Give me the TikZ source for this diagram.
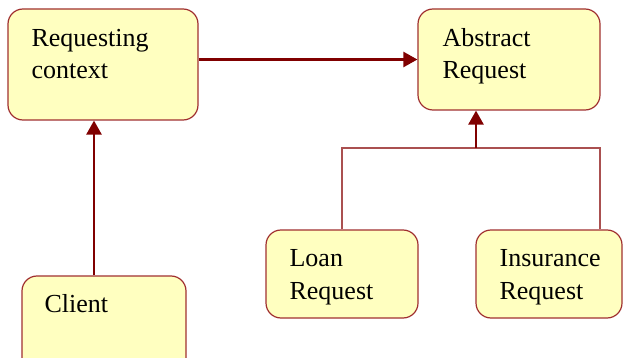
\documentclass[tikz,border=0pt]{standalone}
\usepackage{fontspec}
\setmainfont{Liberation Serif}
\usepackage{tikz}
\usetikzlibrary{arrows.meta, positioning}
\definecolor{boxfill}{RGB}{255, 255, 192}
\definecolor{boxline}{RGB}{160, 48, 48}
\definecolor{darkred}{RGB}{128, 0, 0}
\definecolor{treered}{RGB}{170, 80, 80}
\tikzset{
    classbox/.style={draw=boxline, fill=boxfill, line width=1.2pt, rounded corners=15pt, inner sep=0pt},
    classname/.style={anchor=base west, align=left, inner sep=0pt, font=\fontsize{26}{32.5}\selectfont},
    assoc/.style={darkred, line width=2.5pt, -{Triangle[length=14pt, width=15pt]}}
}

\begin{document}
\begin{tikzpicture}[x=1pt, y=-1pt]
    \useasboundingbox (0,0) rectangle (623,358);
    % boxes
    \node[classbox, minimum width=190pt, minimum height=111pt] (req) at (103,64.5) {};
    \node[classbox, minimum width=182pt, minimum height=101pt] (abs) at (509,59.5) {};
    \node[classbox, minimum width=164pt, minimum height=100pt] (client) at (104,326) {};
    \node[classbox, minimum width=152pt, minimum height=88pt] (loan) at (342,274) {};
    \node[classbox, minimum width=146pt, minimum height=88pt] (ins) at (549,274) {};
    % names (base = last line)
    \node[classname, shift={(24,70.5)}] at (req.north west) {Requesting\\context};
    \node[classname, shift={(25,70.5)}] at (abs.north west) {Abstract\\Request};
    \node[classname, shift={(23,37)}] at (client.north west) {Client};
    \node[classname, shift={(24,70)}] at (loan.north west) {Loan\\Request};
    \node[classname, shift={(24,70)}] at (ins.north west) {Insurance\\Request};
    % connectors
    \draw[assoc] (req.east |- abs.west) -- (abs.west);
    \draw[assoc] ([xshift=-10pt]client.north) -- ([xshift=-9pt]req.south);
    \coordinate (bar) at (476,148);
    \draw[treered, line width=1.2pt] (loan.north) |- (bar) -| ([xshift=51pt]ins.north);
    \draw[assoc] (bar) -- (bar |- abs.south);
\end{tikzpicture}
\end{document}
